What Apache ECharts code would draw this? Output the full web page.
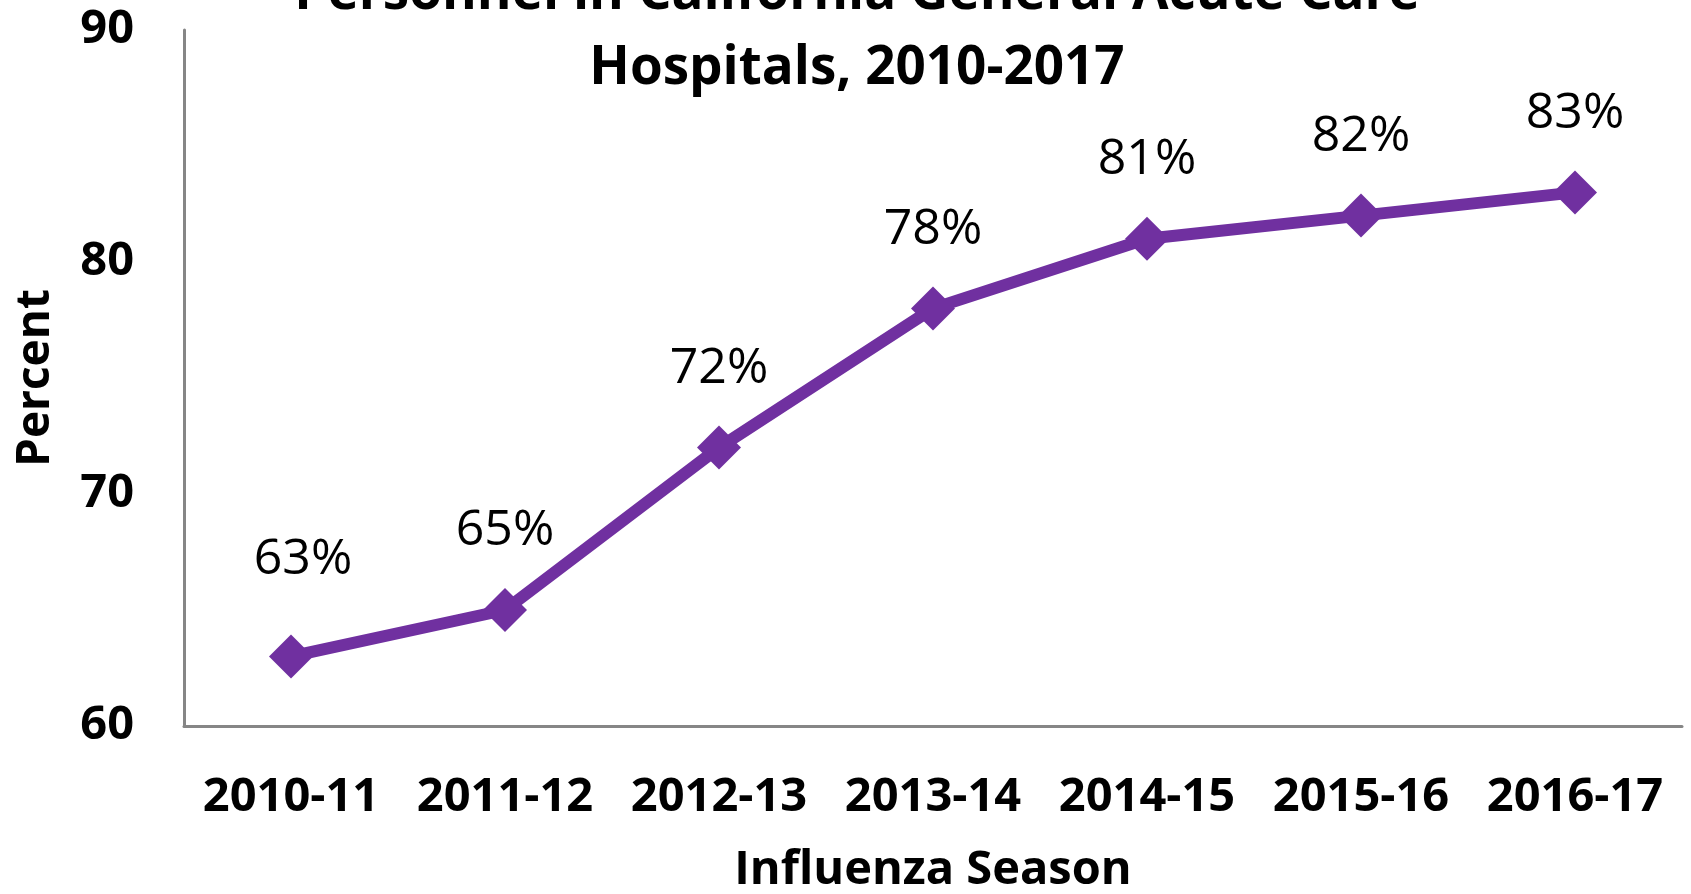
<!DOCTYPE html>
<html>
<head>
<meta charset="utf-8">
<script src="https://cdn.jsdelivr.net/npm/echarts@6/dist/echarts.min.js"></script>
<style>
  html, body { margin: 0; padding: 0; background: #fff; }
  #chart { width: 1691px; height: 894px; }
</style>
</head>
<body>
<div id="chart"></div>
<script>
// flu seasons on the x axis
const seasons = ['2010-11', '2011-12', '2012-13', '2013-14', '2014-15', '2015-16', '2016-17'];
// vaccination coverage, percent
const coverage = [63, 65, 72, 78, 81, 82, 83];
const yTicks = { min: 60, max: 90, step: 10 };

const titleText = 'Personnel in California General Acute Care\nHospitals, 2010-2017';
const font = '"Open Sans", "Noto Sans", sans-serif';

const chart = echarts.init(document.getElementById('chart'));

const option = {
  animation: false,
  backgroundColor: '#fff',
  title: {
    text: titleText,
    left: 852,
    top: -49,
    textAlign: 'center',
    textStyle: {
      fontFamily: font,
      fontWeight: 'bold',
      fontSize: 53,
      lineHeight: 75,
      color: '#000'
    }
  },
  grid: {
    left: 184,
    right: 9,
    top: 30,
    bottom: 168,
    outerBoundsMode: 'none'
  },
  xAxis: {
    type: 'category',
    data: seasons,
    boundaryGap: true,
    name: 'Influenza Season',
    nameLocation: 'middle',
    nameGap: 121,
    nameTextStyle: {
      fontFamily: font,
      fontWeight: 'bold',
      fontSize: 47,
      color: '#000'
    },
    axisLine: { lineStyle: { color: '#868686', width: 3 } },
    axisTick: { show: false },
    axisLabel: {
      interval: 0,
      margin: 48,
      fontFamily: font,
      fontWeight: 'bold',
      fontSize: 47,
      color: '#000'
    },
    splitLine: { show: false }
  },
  yAxis: {
    type: 'value',
    min: yTicks.min,
    max: yTicks.max,
    interval: yTicks.step,
    name: 'Percent',
    nameLocation: 'middle',
    nameGap: 125,
    nameTextStyle: {
      fontFamily: font,
      fontWeight: 'bold',
      fontSize: 46,
      color: '#000'
    },
    axisLine: { show: true, lineStyle: { color: '#868686', width: 3 } },
    axisTick: { show: false },
    axisLabel: {
      margin: 50,
      fontFamily: font,
      fontWeight: 'bold',
      fontSize: 47,
      color: '#000'
    },
    splitLine: { show: false }
  },
  series: [{
    type: 'line',
    data: coverage.map((v, i) => i === 0 ? { value: v, label: { offset: [12, -97] } } : v),
    symbol: 'diamond',
    symbolSize: 44,
    lineStyle: { color: '#7030A0', width: 12 },
    itemStyle: { color: '#7030A0' },
    label: {
      show: true,
      position: 'inside',
      offset: [0, -79],
      formatter: '{c}%',
      fontFamily: font,
      fontWeight: 500,
      fontSize: 50,
      color: '#000'
    }
  }]
};

chart.setOption(option);
</script>
</body>
</html>
